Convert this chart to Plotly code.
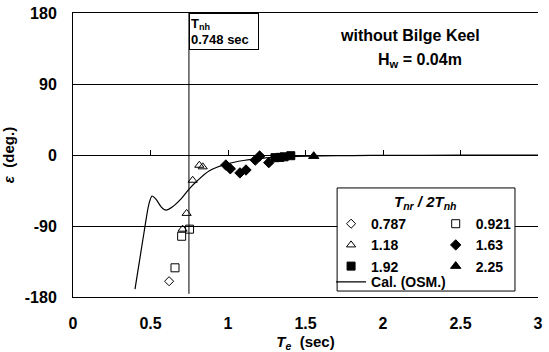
import plotly.graph_objects as go

# ---------------- data ----------------
TNH = 0.748
TNH_LINE_Y = [-176, 180]

x_0787 = [0.62]
y_0787 = [-160]

x_0921 = [0.658, 0.701, 0.752]
y_0921 = [-143, -103, -94]

x_118 = [0.707, 0.733, 0.772, 0.815, 0.837]
y_118 = [-94, -74, -32, -13, -15]

x_163 = [0.986, 1.015, 1.077, 1.116, 1.176, 1.204, 1.263]
y_163 = [-12.7, -17.5, -22.7, -19, -6.5, -1.3, -9.7]

x_192 = [1.303, 1.335, 1.362, 1.405]
y_192 = [-3.4, -3.0, -2.3, -0.9]

x_225 = [1.553]
y_225 = [-1.5]

x_cal = [0.40, 0.43, 0.46, 0.49, 0.51, 0.535, 0.57, 0.60, 0.64, 0.70, 0.75, 0.80,
         0.88, 1.00, 1.10, 1.20, 1.30, 1.40, 1.60, 1.80, 2.00, 2.50, 3.00]
y_cal = [-170, -133, -96, -62, -52, -56, -66, -70, -66, -55, -43, -33,
         -20, -11, -7, -4.5, -3, -2, -1.2, -0.8, -0.5, -0.2, 0]

x_ticks = [0, 0.5, 1, 1.5, 2, 2.5, 3]
x_ticktext = ["0", "0.5", "1", "1.5", "2", "2.5", "3"]
y_ticks = [-180, -90, 0, 90, 180]
y_ticktext = ["-180", "-90", "0", "90", "180"]

FONT = "Liberation Sans, Arial, sans-serif"

fig = go.Figure()

def pts(x, y, name, symbol, size, legend):
    fig.add_trace(go.Scatter(
        x=x, y=y, mode="markers", name=name, legend=legend,
        marker=dict(symbol=symbol, size=size, color="black",
                    line=dict(color="black", width=1)),
    ))

# calculated curve (drawn on the overlay x-axis that carries the ticks on the zero line)
fig.add_trace(go.Scatter(x=x_cal, y=y_cal, mode="lines", name="Cal. (OSM.)",
                         legend="legend3", xaxis="x2", yaxis="y",
                         line=dict(color="black", width=1.2, shape="spline", smoothing=0.8)))
# left column legend
pts(x_0787, y_0787, "0.787", "diamond-open", 7, "legend")
pts(x_118, y_118, "1.18", "triangle-up-open", 8, "legend")
pts(x_192, y_192, "1.92", "square", 8, "legend")
# right column legend
pts(x_0921, y_0921, "0.921", "square-open", 8, "legend2")
pts(x_163, y_163, "1.63", "diamond", 8, "legend2")
pts(x_225, y_225, "2.25", "triangle-up", 9, "legend2")

# Tnh vertical line
fig.add_shape(type="line", xref="x", yref="y", x0=TNH, x1=TNH,
              y0=TNH_LINE_Y[0], y1=TNH_LINE_Y[1], line=dict(color="black", width=1))

# legend frame
fig.add_shape(type="rect", xref="paper", yref="paper",
              x0=0.568, x1=0.9505, y0=0.021, y1=0.384,
              fillcolor="white", line=dict(color="black", width=1), layer="above")

annos = [
    dict(x=TNH, y=180, xref="x", yref="y", xanchor="left", yanchor="top",
         text="T<sub>nh</sub><br>0.748 sec", align="left", showarrow=False,
         bordercolor="black", borderwidth=1, borderpad=1, bgcolor="white",
         width=66, height=33,
         font=dict(family=FONT, size=13, color="black", weight="bold")),
    dict(x=0.724, y=0.922, xref="paper", yref="paper", xanchor="center", yanchor="middle",
         text="without Bilge Keel",
         showarrow=False, font=dict(family=FONT, size=16, color="black", weight="bold")),
    dict(x=0.746, y=0.834, xref="paper", yref="paper", xanchor="center", yanchor="middle",
         text="H<sub>w</sub> = 0.04m",
         showarrow=False, font=dict(family=FONT, size=16, color="black", weight="bold")),
    dict(x=0.759, y=0.331, xref="paper", yref="paper", xanchor="center", yanchor="middle",
         text="<i>T<sub>nr</sub> / 2T<sub>nh</sub></i>",
         showarrow=False, font=dict(family=FONT, size=15, color="black", weight="bold")),
]
fig.update_layout(annotations=annos)

legend_common = dict(bgcolor="rgba(0,0,0,0)", borderwidth=0, orientation="v",
                     xanchor="left", yanchor="top",
                     font=dict(family=FONT, size=14, color="black", weight="bold"),
                     tracegroupgap=0, itemwidth=30)

fig.update_layout(
    width=549, height=352,
    margin=dict(l=73, r=11, t=13, b=55, autoexpand=False),
    paper_bgcolor="white", plot_bgcolor="white",
    font=dict(family=FONT, color="black"),
    showlegend=True,
    legend=dict(x=0.555, y=0.313, **legend_common),
    legend2=dict(x=0.78, y=0.313, **legend_common),
    legend3=dict(x=0.555, y=0.108, **legend_common),
    xaxis=dict(range=[0, 3], tickvals=x_ticks, ticktext=x_ticktext, automargin=False,
               showgrid=False, zeroline=False, showline=True, linecolor="black",
               linewidth=1, mirror=True, ticks="", ticklabelstandoff=12,
               tickfont=dict(family=FONT, size=16, color="black", weight="bold"),
               title=dict(text="<i>T<sub>e</sub></i>  (sec)", standoff=6,
                          font=dict(family=FONT, size=15, color="black", weight="bold"))),
    xaxis2=dict(range=[0, 3], overlaying="x", anchor="free", position=0.5, side="bottom",
                tickvals=x_ticks[1:], ticks="inside", ticklen=5, tickcolor="black",
                tickwidth=1, automargin=False,
                showticklabels=False, showgrid=False, zeroline=False, showline=False),
    yaxis=dict(range=[-180, 180], tickvals=y_ticks, ticktext=y_ticktext, automargin=False,
               showgrid=True, gridcolor="black", gridwidth=1, zeroline=False,
               showline=True, linecolor="black", linewidth=1, mirror=False,
               ticks="", ticklabelstandoff=12,
               tickfont=dict(family=FONT, size=16, color="black", weight="bold"),
               title=dict(text="<i>ε</i>  (deg.)", standoff=12,
                          font=dict(family=FONT, size=15, color="black", weight="bold"))),
)

fig.write_html("out.html")
